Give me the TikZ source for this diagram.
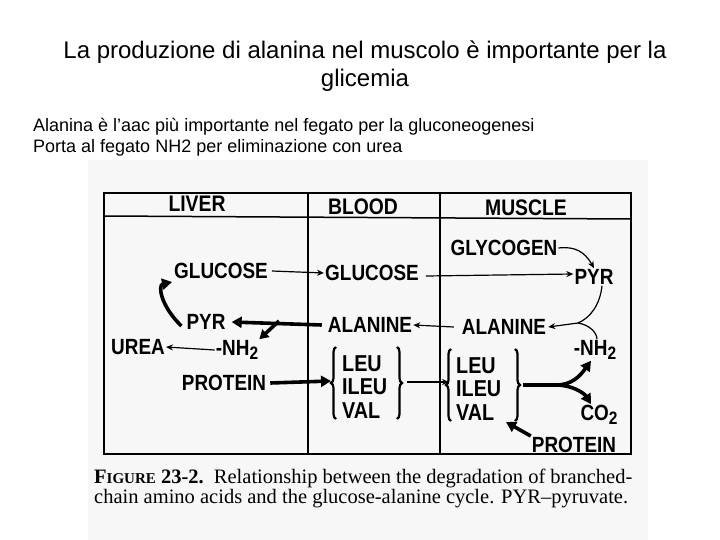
\documentclass[tikz,border=0pt]{standalone}
\usepackage{fontspec}
\setmainfont{Liberation Sans}
\newfontfamily\capfont{Liberation Serif}
\newfontfamily\lblfont[FakeStretch=0.86]{Liberation Sans}
\usetikzlibrary{arrows.meta,decorations.pathreplacing}
\newcommand\subtwo{\raisebox{-4pt}{\fontsize{18}{18}\selectfont 2}}
\tikzset{
  lbl/.style={font=\lblfont\fontsize{22}{22}\selectfont\bfseries, inner sep=1pt},
  head/.style={font=\lblfont\fontsize{22.5}{22.5}\selectfont\bfseries, inner sep=1pt},
  aalist/.style={lbl, align=left, anchor=west, font=\lblfont\fontsize{23}{23.5}\selectfont\bfseries},
  thinarr/.style={line width=1.2pt, -{Stealth[length=7pt,width=6pt]}},
  thickarr/.style={line width=3.6pt, -{Triangle[length=10pt,width=11pt]}},
  thickln/.style={line width=3.6pt},
  boxln/.style={line width=1.5pt},
  bracel/.style={line width=2.2pt, decorate, decoration={brace, amplitude=5pt}},
  captxt/.style={anchor=west, inner sep=0pt, font=\capfont\fontsize{20.5}{20.5}\selectfont},
}
\begin{document}
\begin{tikzpicture}[x=1pt,y=-1pt]
\useasboundingbox (0,0) rectangle (720,540);
\fill[white] (0,0) rectangle (720,540);
\fill[black!3] (88,160) rectangle (648,540);

% titles
\node (t1) at (365,52) {\fontsize{24}{24}\selectfont La produzione di alanina nel muscolo è importante per la};
\node (t2) at (365,80) {\fontsize{24}{24}\selectfont glicemia};
\node[anchor=west, inner sep=0pt] (s1) at (33,127) {\fontsize{18}{18}\selectfont Alanina è l’aac più importante nel fegato per la gluconeogenesi};
\node[anchor=west, inner sep=0pt] (s2) at (33,148) {\fontsize{18}{18}\selectfont Porta al fegato NH2 per eliminazione con urea};

% frame
\draw[boxln] (104,193) rectangle (631,454);
\draw[boxln] (104,216) -- (631,219);
\draw[boxln] (308,193) -- (308,454);
\draw[boxln] (440,193) -- (440,454);

% headers
\node[head] (liverH) at (197,204) {LIVER};
\node[head] (bloodH) at (363,207) {BLOOD};
\node[head] (muscleH) at (526,208) {MUSCLE};

% labels
\node[lbl] (glyc) at (504,248) {GLYCOGEN};
\node[lbl] (pyrM) at (594,277) {PYR};
\node[lbl] (gluL) at (221,271) {GLUCOSE};
\node[lbl] (gluB) at (372,273) {GLUCOSE};
\node[lbl] (pyrL) at (206,322) {PYR};
\node[lbl] (alaB) at (370,325) {ALANINE};
\node[lbl] (alaM) at (504,327) {ALANINE};
\node[lbl] (urea) at (138,347) {UREA};
\node[lbl] (nh2L) at (237,350) {-NH\subtwo};
\node[lbl] (nh2M) at (595,350) {-NH\subtwo};
\node[lbl] (protL) at (224,383) {PROTEIN};
\node[aalist] (aaB) at (341,387) {LEU\\ILEU\\VAL};
\node[aalist] (aaM) at (455,389) {LEU\\ILEU\\VAL};
\node[lbl] (co2) at (599,415) {CO\subtwo};
\node[lbl] (protM) at (574,445) {PROTEIN};

% braces
\draw[bracel] (336,419) -- (336,347);
\draw[bracel] (397,347) -- (397,419);
\draw[bracel] (451,421) -- (451,349);
\draw[bracel] (515,349) -- (515,421);

% coordinates
\coordinate (jL) at (279,321);
\coordinate (jM) at (578,323);
\coordinate (fk) at (556,385);
\coordinate (bB) at (407,382);
\coordinate (bM) at (523,385);
\coordinate (bMe) at (449,382);
\coordinate (bBw) at (331,381);
\coordinate (vM) at (506,422);

% arrows
\draw[thinarr] (gluL.east) ++(3,0) -- (gluB.west);
\draw[thinarr] (gluB.east) ++(6,3) -- ([yshift=3pt]pyrM.west);
\draw[thinarr] (glyc.east) .. controls (575,246) and (585,252) .. (pyrM.north);
\draw[line width=1.2pt] ([xshift=8pt]pyrM.south) .. controls (600,305) and (590,318) .. (jM);
\draw[line width=1.2pt] ([xshift=2pt]nh2M.north) .. controls (597,333) and (590,325) .. (jM);
\draw[thinarr] (jM) -- ([xshift=1pt]alaM.east);
\draw[thinarr] ([xshift=-7pt]alaM.west) -- (alaB.east);
\draw[thickarr] ([xshift=-5pt]alaB.west) -- ([xshift=5pt]pyrL.east);
\draw[thickln, -{Triangle[length=9pt,width=10pt]}] (jL) -- (nh2L.north east);
\draw[thinarr] (nh2L.west) -- (urea.east);
\draw[thickarr] ([xshift=-4pt,yshift=-4pt]pyrL.west) .. controls (160,305) and (158,285) .. ([xshift=-1pt,yshift=-2pt]gluL.south west);
\draw[thickarr] ([xshift=3pt]protL.east) -- (bBw);
\draw[thinarr] (bB) -- (bMe);
\draw[thickln] (bM) -- (fk);
\draw[thickarr] (fk) .. controls (572,385) and (580,376) .. ([xshift=-4pt]nh2M.south);
\draw[thickarr] (fk) .. controls (572,385) and (584,393) .. ([xshift=-8pt]co2.north);
\draw[thickarr] (protM.north west) -- (vM);

% caption
\node[captxt] (c1) at (94,478) {\textbf{F{\fontsize{15}{15}\selectfont IGURE} 23-2.}\ \ Relationship between the degradation of branched-};
\node[captxt] (c2) at (94,499) {chain amino acids and the glucose-alanine cycle. PYR–pyruvate.};
\end{tikzpicture}
\end{document}
